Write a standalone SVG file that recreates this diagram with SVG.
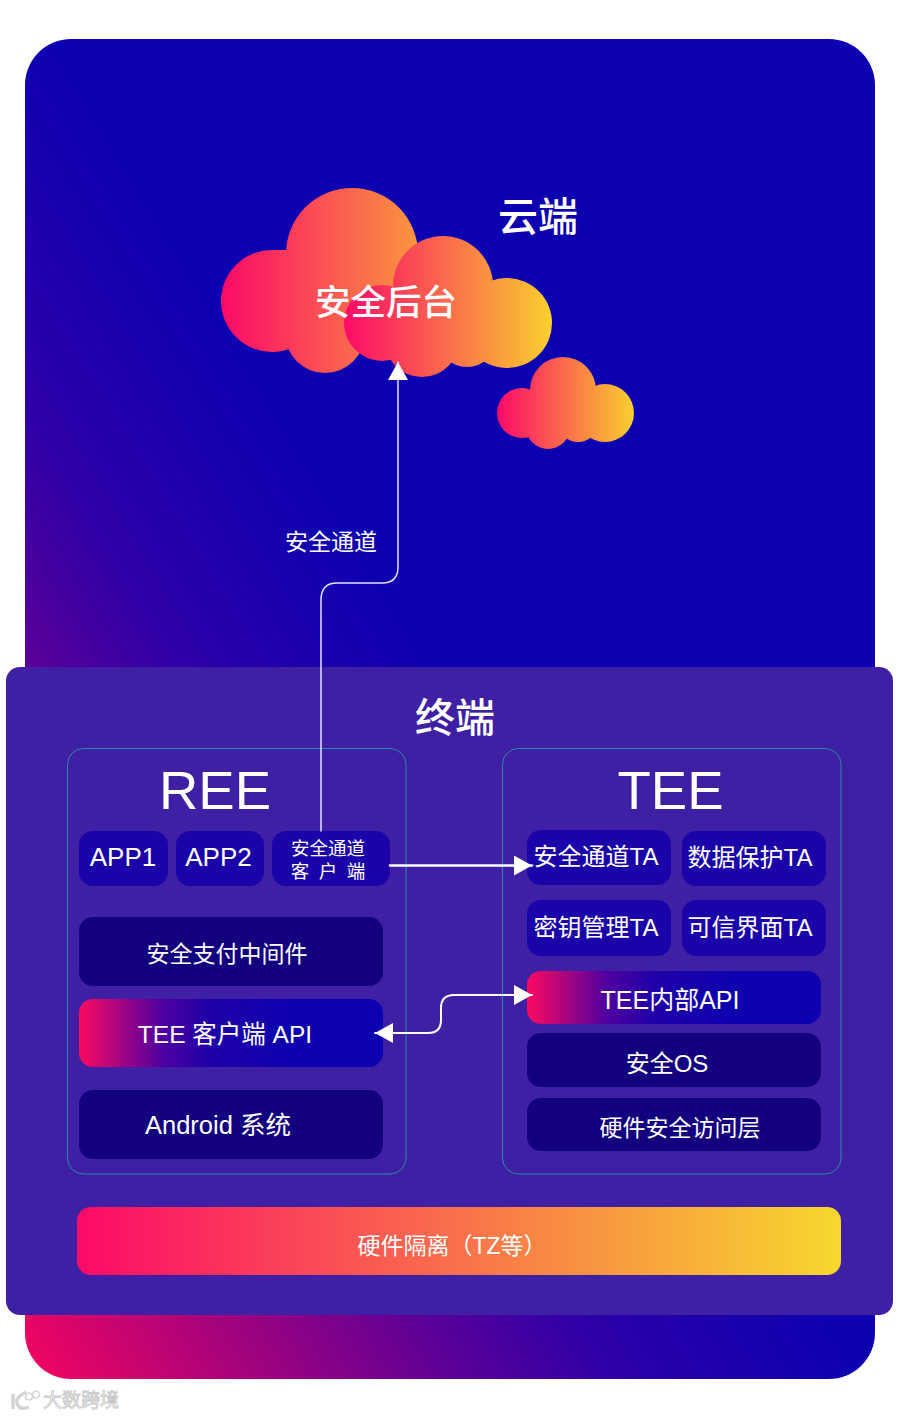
<svg xmlns="http://www.w3.org/2000/svg" width="900" height="1417" viewBox="0 0 900 1417">
<style>
text{font-family:"Liberation Sans","Noto Sans CJK SC",sans-serif;fill:#fff;text-anchor:middle}
.h{font-size:40px;font-weight:500}
.ee{font-size:54.500px}
.t{font-size:24px}
.c{font-size:23px}
.box{fill:none;stroke:#2a8aa8;stroke-width:1}
.blue{fill:#1a03a8}
.dark{fill:#13007f}
.line{fill:none;stroke-linecap:round}
</style>
<defs>
<linearGradient id="bg" gradientUnits="userSpaceOnUse" x1="25" y1="1379" x2="641" y2="1006"><stop offset="0" stop-color="#f5055f"/><stop offset=".52" stop-color="#5a0098"/><stop offset=".7" stop-color="#2e00a8"/><stop offset="1" stop-color="#0c00b0"/></linearGradient>
<linearGradient id="c1" gradientUnits="userSpaceOnUse" x1="222" y1="0" x2="500" y2="0"><stop offset="0" stop-color="#fc0a68"/><stop offset="1" stop-color="#f9d02e"/></linearGradient>
<linearGradient id="c2" gradientUnits="userSpaceOnUse" x1="344" y1="0" x2="552" y2="0"><stop offset="0" stop-color="#fc0a68"/><stop offset="1" stop-color="#f9d02e"/></linearGradient>
<linearGradient id="c3" gradientUnits="userSpaceOnUse" x1="497" y1="0" x2="634" y2="0"><stop offset="0" stop-color="#fc0a68"/><stop offset="1" stop-color="#f9d02e"/></linearGradient>
<linearGradient id="pb"><stop offset="0" stop-color="#fc0a60"/><stop offset=".27" stop-color="#5000a0"/><stop offset=".43" stop-color="#2000a8"/><stop offset=".7" stop-color="#0c00b0"/></linearGradient>
<linearGradient id="hw"><stop offset="0" stop-color="#fc0a68"/><stop offset="1" stop-color="#f7d82e"/></linearGradient>
<marker id="a" markerUnits="userSpaceOnUse" markerWidth="20" markerHeight="20" refX="18" refY="10" orient="auto-start-reverse"><path d="M0 0L18 10L0 20Z" fill="#fff"/></marker>
</defs>
<rect id="cloud-panel" x="25" y="39" width="850" height="1340" rx="46" fill="url(#bg)"/>
<g id="cloud-big">
<g fill="url(#c1)"><circle cx="272" cy="301" r="51"/><circle cx="352" cy="254" r="66"/><circle cx="325" cy="333" r="40"/><rect x="272" y="250" width="150" height="90"/></g>
<g fill="url(#c2)"><circle cx="382" cy="323" r="38"/><circle cx="443" cy="286" r="50"/><circle cx="507" cy="323" r="45"/><circle cx="422" cy="340" r="37"/><circle cx="467" cy="337" r="30"/><rect x="390" y="300" width="110" height="45"/></g>
<text x="386" y="315" font-weight="500" style="font-size:35.500px">安全后台</text>
</g>
<g id="cloud-small" fill="url(#c3)"><circle cx="522" cy="413" r="25"/><circle cx="563" cy="390" r="33"/><circle cx="605" cy="413" r="29"/><circle cx="548" cy="427" r="22"/><circle cx="578" cy="422" r="20"/><rect x="525" y="395" width="80" height="35"/></g>
<text id="cloud-label" class="h" x="538" y="231">云端</text>
<rect id="terminal" x="6" y="667" width="887" height="648" rx="14" fill="#3f20a5"/>
<text id="terminal-label" class="h" x="455" y="732">终端</text>
<g id="ree">
<rect class="box" x="67.500" y="748.500" width="338.500" height="425.500" rx="16"/>
<text class="ee" x="215" y="809">REE</text>
</g>
<g id="tee">
<rect class="box" x="502.500" y="748.500" width="338.500" height="425.500" rx="16"/>
<text class="ee" x="670.500" y="809">TEE</text>
</g>
<g id="app1"><rect class="blue" x="79" y="831" width="89" height="55" rx="14"/><text style="font-size:26px" x="123" y="866">APP1</text></g>
<g id="app2"><rect class="blue" x="176" y="831" width="88" height="55" rx="14"/><text style="font-size:26px" x="218.500" y="866">APP2</text></g>
<g id="channel-client"><rect class="blue" x="272" y="831" width="118" height="55" rx="14"/><text style="font-size:18.500px" x="328" y="855">安全通道</text><text style="font-size:18.500px" x="300 328 356" y="878">客户端</text></g>
<g id="middleware"><rect class="dark" x="79" y="917" width="304" height="69" rx="14"/><text class="c" x="227" y="962">安全支付中间件</text></g>
<g id="client-api"><rect fill="url(#pb)" x="79" y="999" width="304" height="68" rx="14"/><text style="font-size:24.500px" x="225" y="1043">TEE 客户端 API</text></g>
<g id="android"><rect class="dark" x="79" y="1090" width="304" height="69" rx="14"/><text style="font-size:25.500px" x="218" y="1134">Android 系统</text></g>
<g id="ta1"><rect class="blue" x="527" y="830" width="144" height="55" rx="14"/><text class="t" x="596" y="865">安全通道TA</text></g>
<g id="ta2"><rect class="blue" x="682" y="831" width="144" height="55" rx="14"/><text class="t" x="750" y="866">数据保护TA</text></g>
<g id="ta3"><rect class="blue" x="527" y="900" width="144" height="56" rx="14"/><text class="t" x="596" y="936">密钥管理TA</text></g>
<g id="ta4"><rect class="blue" x="682" y="900" width="144" height="56" rx="14"/><text class="t" x="750" y="936">可信界面TA</text></g>
<g id="internal-api"><rect fill="url(#pb)" x="527" y="971" width="294" height="53" rx="14"/><text style="font-size:25px" x="670" y="1009">TEE内部API</text></g>
<g id="secure-os"><rect class="dark" x="527" y="1033" width="294" height="54" rx="14"/><text class="t" x="667" y="1072">安全OS</text></g>
<g id="hal"><rect class="dark" x="527" y="1098" width="294" height="53" rx="14"/><text class="c" x="680" y="1136">硬件安全访问层</text></g>
<g id="isolation"><rect fill="url(#hw)" x="77" y="1207" width="764" height="68" rx="14"/><text class="c" style="text-anchor:middle" x="452" y="1254" xml:space="preserve">硬件隔离（TZ等）</text></g>
<g id="connectors">
<path class="line" stroke="#e4e2ff" stroke-width="1.500" d="M321 831V600Q321 583 337 583H382Q398 583 398 567V362" marker-end="url(#a)"/>
<path class="line" stroke="#fff" stroke-width="2.500" d="M390 865.500H532" marker-end="url(#a)"/>
<path class="line" stroke="#fff" stroke-width="2" d="M375 1033H428Q441 1033 441 1020V1008Q441 995 454 995H532" marker-start="url(#a)" marker-end="url(#a)"/>
<text style="font-size:23px" x="331" y="550">安全通道</text>
</g>
<g id="watermark">
<path d="M13 1394V1409M26 1392Q15 1398 17 1403Q19 1411 29 1407" fill="none" stroke="#d4d4d4" stroke-width="3.500"/>
<path d="M29 1393a3.500 3.500 0 1 0 .1 0M36 1391a3.500 3.500 0 1 0 .1 0" fill="none" stroke="#d4d4d4" stroke-width="1.500"/>
<text x="81" y="1407" style="font-size:19px;fill:#f4f4f4;stroke:#c8c8c8;stroke-width:.8px">大数跨境</text>
</g>
</svg>
